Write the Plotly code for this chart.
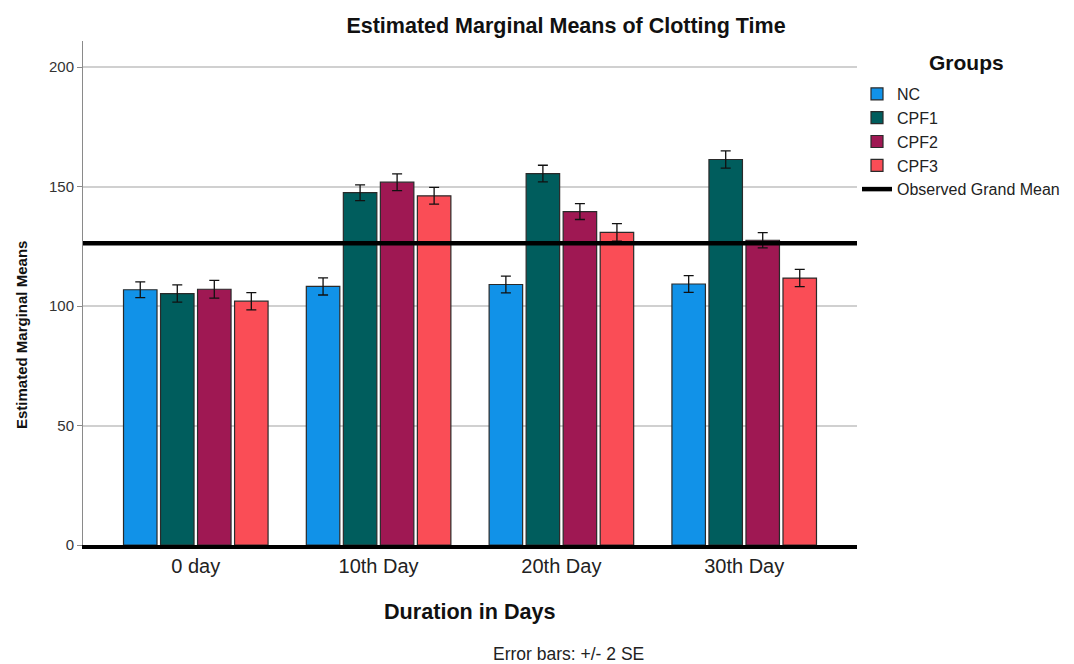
import plotly.graph_objects as go

# ---- data ----
days = ["0 day", "10th Day", "20th Day", "30th Day"]
groups = ["NC", "CPF1", "CPF2", "CPF3"]
nc_means = [106.8, 108.2, 109.0, 109.2]
cpf1_means = [105.2, 147.4, 155.4, 161.3]
cpf2_means = [107.0, 151.8, 139.5, 127.5]
cpf3_means = [102.0, 146.1, 130.8, 111.7]
nc_err = [3.3, 3.6, 3.5, 3.5]
cpf1_err = [3.6, 3.3, 3.5, 3.6]
cpf2_err = [3.7, 3.5, 3.3, 3.2]
cpf3_err = [3.6, 3.5, 3.7, 3.6]
grand_mean = 126.3

colors = ["#1192e8", "#005d5d", "#9f1853", "#fa4d56"]
means = [nc_means, cpf1_means, cpf2_means, cpf3_means]
errs = [nc_err, cpf1_err, cpf2_err, cpf3_err]

FONT = "Liberation Sans, Arial, sans-serif"
x_pos = list(range(len(days)))
x_range = [-0.617, len(days) - 1 + 0.617]

# page body has an 8px margin: the figure is drawn 8px in from the top-left
OFF = 8
W, H = 1074 - OFF, 664 - OFF
PL, PR, PT, PB = 83, 857, 41, 545   # plot area in window pixels
PW, PH = PR - PL, PB - PT
Y_TOP = 200 * (PB - PT) / (PB - 67)  # so that 200 sits at y=67


def px(x):
    return (x - PL) / PW


def py(y):
    return (PB - y) / PH


fig = go.Figure()
for name, col, m, e in zip(groups, colors, means, errs):
    fig.add_trace(go.Bar(
        name=name, x=x_pos, y=m,
        marker=dict(color=col, line=dict(color="#2a2a2a", width=1.2)),
        error_y=dict(type="data", array=e, visible=True, color="#111111",
                     thickness=1.3, width=5),
    ))

fig.add_trace(go.Scatter(
    name="Observed Grand Mean", x=x_range, y=[grand_mean, grand_mean],
    mode="lines", line=dict(color="black", width=4.5), cliponaxis=False,
))

fig.update_layout(
    width=W, height=H,
    margin=dict(l=PL - OFF, r=1074 - PR, t=PT - OFF, b=664 - PB,
                autoexpand=False),
    paper_bgcolor="white", plot_bgcolor="white",
    barmode="group", bargap=0.19, bargroupgap=0.095,
    font=dict(family=FONT, color="#222222"),
    title=dict(text="<b>Estimated Marginal Means of Clotting Time</b>",
               x=(566 - OFF) / W, xref="container", xanchor="center",
               y=1 - (25 - OFF) / H, yref="container", yanchor="middle",
               font=dict(size=21.5, color="#111111", family=FONT)),
    showlegend=True,
    legend=dict(
        x=px(857), xanchor="left", y=py(77), yanchor="top",
        font=dict(size=16, color="#222222"),
        tracegroupgap=0, bgcolor="rgba(0,0,0,0)",
    ),
    xaxis=dict(
        range=x_range, tickvals=x_pos, ticktext=days,
        showgrid=False, zeroline=False,
        showline=True, linecolor="black", linewidth=4,
        ticks="", tickfont=dict(size=20, color="#222222"),
    ),
    yaxis=dict(
        range=[0, Y_TOP], tickvals=[0, 50, 100, 150, 200],
        showgrid=True, gridcolor="#d0d0d0", gridwidth=1.5,
        zeroline=False, showline=True, linecolor="#8a8a8a", linewidth=1,
        ticks="outside", ticklen=5, tickcolor="#8a8a8a",
        tickfont=dict(size=15, color="#333333"),
    ),
    annotations=[
        dict(text="<b>Groups</b>", xref="paper", yref="paper",
             x=px(966), y=py(63), xanchor="center", yanchor="middle",
             showarrow=False, font=dict(size=21, color="#111111")),
        dict(text="<b>Duration in Days</b>", xref="paper", yref="paper",
             x=0.5, y=py(611), xanchor="center", yanchor="middle",
             showarrow=False, font=dict(size=21.6, color="#111111")),
        dict(text="<b>Estimated Marginal Means</b>", xref="paper", yref="paper",
             x=px(22), y=py(335), textangle=-90,
             xanchor="center", yanchor="middle", showarrow=False,
             font=dict(size=15, color="#111111")),
        dict(text="Error bars: +/- 2 SE", xref="paper", yref="paper",
             x=px(568), y=py(654), xanchor="center", yanchor="middle",
             showarrow=False, font=dict(size=17.5, color="#222222")),
    ],
)

fig.write_html("out.html")
